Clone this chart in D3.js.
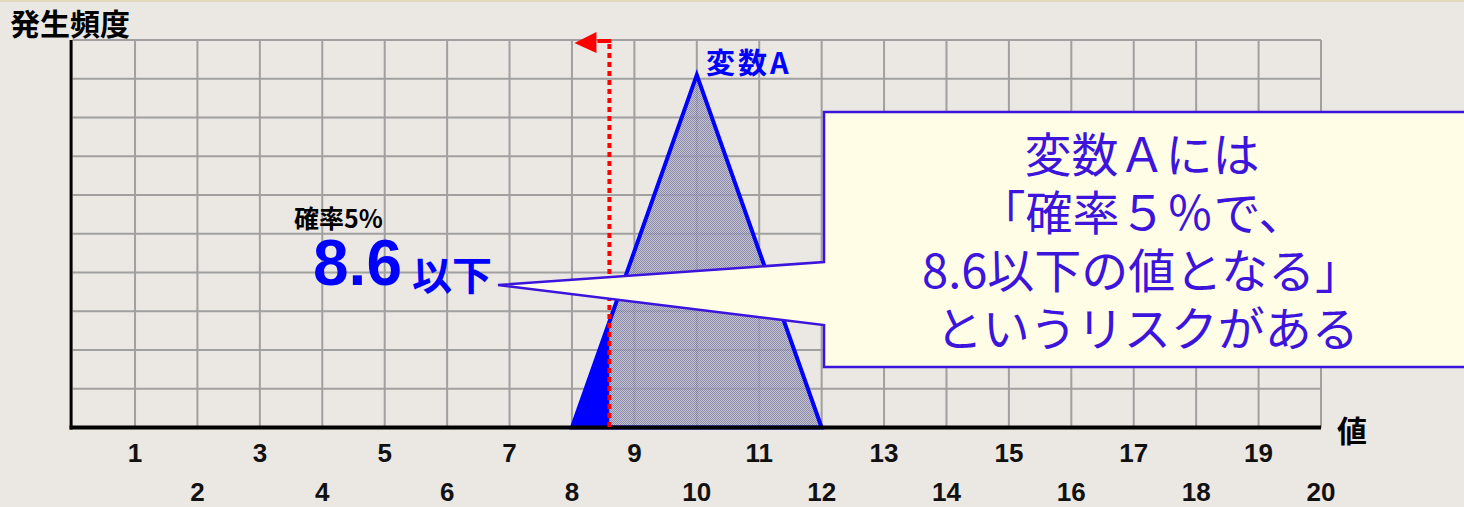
<!DOCTYPE html>
<html>
<head>
<meta charset="utf-8">
<script src="https://cdn.jsdelivr.net/npm/d3@7"></script>
<style>
  html, body { margin: 0; padding: 0; background: #ebe7e3; }
  svg { display: block; }
</style>
</head>
<body>
<svg id="chart" width="1464" height="507"></svg>
<script>
// Value axis ticks (odd on the upper row, even on the lower row)
const tickValues = [1, 2, 3, 4, 5, 6, 7, 8, 9, 10, 11, 12, 13, 14, 15, 16, 17, 18, 19, 20];
const tickLabels = ["1", "2", "3", "4", "5", "6", "7", "8", "9", "10", "11", "12", "13", "14", "15", "16", "17", "18", "19", "20"];
const freqGrid = [0, 1, 2, 3, 4, 5, 6, 7, 8, 9, 10];

// Triangular distribution of 変数A: min, mode, max and its frequency
const triX = [8, 10, 12];
const triY = [0, 9.1, 0];

// Lower 5% tail of the distribution
const riskValue = 8.6;
const tailX = [8, 8.6, 8.6];
const tailY = [0, 2.73, 0];

const calloutLines = ["変数Ａには", "「確率５％で、", "8.6以下の値となる」", " というリスクがある"];

const svg = d3.select("#chart");
const W = 1464, H = 507;

const x = d3.scaleLinear().domain([0, 20]).range([72.6, 1321]);
const y = d3.scaleLinear().domain([0, 10]).range([427.5, 40]);

// background and thin top band
svg.append("rect").attr("width", W).attr("height", H).attr("fill", "#ebe7e3");
svg.append("rect").attr("width", W).attr("height", 2).attr("fill", "#e2d8bc");

// checkered fill for the distribution body
const defs = svg.append("defs");
const pat = defs.append("pattern").attr("id", "dither")
  .attr("width", 2).attr("height", 2).attr("patternUnits", "userSpaceOnUse");
pat.append("rect").attr("width", 2).attr("height", 2).attr("fill", "#babbd1");
pat.append("rect").attr("width", 1).attr("height", 1).attr("fill", "#74739a");
pat.append("rect").attr("x", 1).attr("y", 1).attr("width", 1).attr("height", 1).attr("fill", "#74739a");

// grid
const grid = svg.append("g").attr("stroke", "#a0a0a0").attr("stroke-width", 2);
grid.selectAll("line.v").data(tickValues).join("line").attr("class", "v")
  .attr("x1", d => x(d)).attr("x2", d => x(d))
  .attr("y1", y(10)).attr("y2", y(0));
grid.selectAll("line.h").data(freqGrid.filter(d => d > 0)).join("line").attr("class", "h")
  .attr("x1", x(0)).attr("x2", x(20))
  .attr("y1", d => y(d)).attr("y2", d => y(d));

const pts = (xs, ys) => xs.map((v, i) => [x(v), y(ys[i])]);
const poly = d3.line();

// distribution body
svg.append("path")
  .attr("d", poly(pts(triX, triY)) + "Z")
  .attr("fill", "url(#dither)")
  .attr("fill-opacity", 0.8);

// 5% tail
svg.append("path")
  .attr("d", poly(pts(tailX, tailY)) + "Z")
  .attr("fill", "#0000ff")
  .attr("stroke", "#8080a8").attr("stroke-width", 1);

// distribution outline
svg.append("path")
  .attr("d", poly(pts(triX, triY)) + "Z")
  .attr("fill", "none")
  .attr("stroke", "#0000ff").attr("stroke-width", 4)
  .attr("stroke-linejoin", "miter");

// axes
svg.append("line").attr("x1", x(0) - 1.5).attr("x2", x(0) - 1.5)
  .attr("y1", y(10)).attr("y2", y(0) + 2)
  .attr("stroke", "#000").attr("stroke-width", 3);
svg.append("line").attr("x1", x(0) - 3).attr("x2", x(20))
  .attr("y1", y(0)).attr("y2", y(0))
  .attr("stroke", "#000").attr("stroke-width", 4);

// tick labels
svg.append("g").selectAll("text").data(tickValues).join("text")
  .attr("x", d => x(d))
  .attr("y", d => d % 2 === 1 ? 462 : 501)
  .attr("text-anchor", "middle")
  .attr("font-family", "Liberation Sans, Arial, sans-serif")
  .attr("font-weight", "bold")
  .attr("font-size", 26)
  .attr("fill", "#111")
  .text((d, i) => tickLabels[i]);

// risk threshold: dotted red line with arrow pointing to lower values
const rx = x(riskValue);
svg.append("line")
  .attr("x1", rx).attr("x2", rx)
  .attr("y1", y(10) + 4).attr("y2", y(0) + 3)
  .attr("stroke", "#ff0000").attr("stroke-width", 4)
  .attr("stroke-dasharray", "5 4");
svg.append("line")
  .attr("x1", rx + 2).attr("x2", rx - 12)
  .attr("y1", y(10) + 1).attr("y2", y(10) + 1)
  .attr("stroke", "#ff0000").attr("stroke-width", 4);
svg.append("path")
  .attr("d", `M${rx - 35},${y(10) + 3} L${rx - 13},${y(10) - 8} L${rx - 13},${y(10) + 13} Z`)
  .attr("fill", "#ff0000");

// axis titles
const jp = "Noto Sans CJK JP, sans-serif";
svg.append("text").attr("x", 10).attr("y", 35)
  .attr("font-family", jp).attr("font-weight", "bold").attr("font-size", 30)
  .attr("fill", "#000").text("発生頻度");
svg.append("text").attr("x", 1337).attr("y", 442)
  .attr("font-family", jp).attr("font-weight", "bold").attr("font-size", 30)
  .attr("fill", "#000").text("値");

// series label
svg.append("text").attr("x", 706).attr("y", 74)
  .attr("font-family", jp).attr("font-weight", "bold").attr("font-size", 29)
  .attr("letter-spacing", 3)
  .attr("fill", "#0000ff").text("変数A");

// threshold annotation (one text block, two lines)
const note = svg.append("text")
  .attr("font-family", jp).attr("font-weight", "bold");
note.append("tspan").attr("x", 294).attr("y", 228)
  .attr("font-size", 25).attr("fill", "#000").text("確率5%");
note.append("tspan").attr("x", 313).attr("y", 285)
  .attr("font-family", "Liberation Sans, Arial, sans-serif")
  .attr("font-size", 64).attr("fill", "#0000ff").text(riskValue.toFixed(1));
note.append("tspan").attr("x", 412).attr("y", 290)
  .attr("font-size", 40).attr("fill", "#0000ff").text("以下");

// callout box with pointer
const cbL = 824, cbT = 112, cbB = 367, cbR = 1470;
const tip = [498, 285];
svg.append("path")
  .attr("d", `M${cbL},${cbT} L${cbR},${cbT} L${cbR},${cbB} L${cbL},${cbB} L${cbL},325 L${tip[0]},${tip[1]} L${cbL},262 Z`)
  .attr("fill", "#fffde6")
  .attr("stroke", "#3c14dc").attr("stroke-width", 2.5)
  .attr("stroke-linejoin", "miter");

const callout = svg.append("text")
  .attr("text-anchor", "middle")
  .attr("font-family", jp)
  .attr("font-size", 47)
  .attr("fill", "#3c14dc")
  .attr("xml:space", "preserve")
  .style("white-space", "pre");
callout.selectAll("tspan").data(calloutLines).join("tspan")
  .attr("x", 1142)
  .attr("y", (d, i) => 172 + i * 58)
  .text(d => d);
</script>
</body>
</html>
